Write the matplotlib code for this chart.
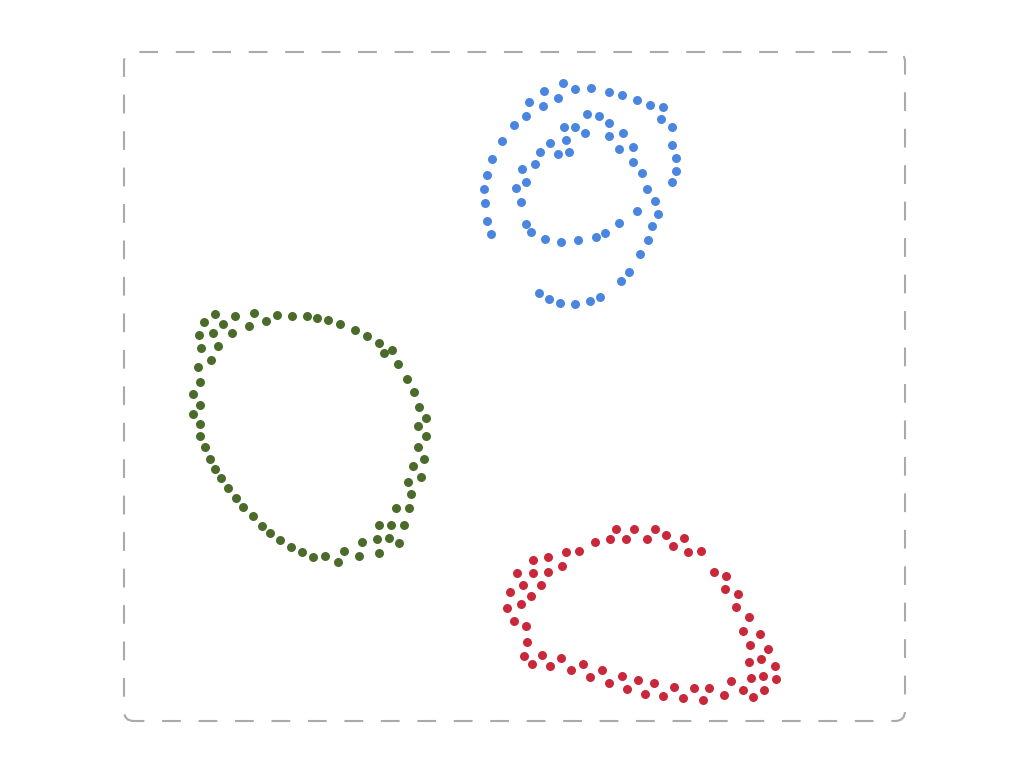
import matplotlib
matplotlib.use("Agg")
import matplotlib.pyplot as plt
from matplotlib.patches import FancyBboxPatch

# Data values (x to the right, y upward; chart area spans x 124..905, y 47..716)
blue_x = [491.3, 487.3, 485, 484.3, 487.3, 492, 502.3, 513.7, 526.3, 529, 544, 542.7, 558, 563,
          575.3, 591.3, 609.3, 622, 636.7, 649.7, 663, 661, 672, 672.3, 676.3, 676.3, 672.3, 655,
          658, 652.3, 647.7, 639.7, 629.3, 620.7, 600.3, 590, 575, 560.3, 549, 539.3,
          647, 642, 633.3, 633.3, 623, 619, 608.7, 608.7, 599, 587, 585.3, 575.3, 563.7, 566,
          569.3, 557.7, 549.7, 540, 534.7, 522.3, 526, 516.3, 521.3, 526, 531.3, 545.3, 560.7,
          577.7, 595.7, 605.3, 619.3, 637]
blue_y_px = [233.7, 220.7, 203, 189.3, 175.3, 159, 140.7, 125, 116.3, 102.3, 90.7, 105.7, 98, 83.3,
             88.7, 87.7, 91.7, 95, 99.7, 105, 107, 119.3, 127, 145, 158, 170.7, 182.3, 201,
             214.3, 226.3, 240, 254, 271.7, 281, 296.7, 301.3, 303.7, 303, 299, 293,
             188.7, 172.7, 162.3, 147.3, 133.3, 148.7, 136, 123.3, 116.3, 113.7, 133, 126.7, 127.3, 140,
             152.3, 154.3, 143.3, 151.7, 164.3, 169.3, 181.7, 187.7, 202.3, 223.7, 232.3, 239.3, 242.3,
             240.3, 237.3, 233.3, 223.3, 210.7]

green_x = [214.7, 235.3, 254, 266.3, 277, 291.7, 307, 317.3, 328.3, 340.3, 354.7, 366.7, 378.7, 384,
           392.3, 397.7, 407.3, 413.7, 418.7, 426, 417.7, 426, 418.3, 423.7, 413, 420.7, 407.7, 410.7,
           409, 395.7, 404.3, 391, 378.7, 377, 389.3, 399.3, 378.7, 362.3, 359, 344, 338, 325.3,
           313.3, 302.3, 291, 280, 270.3, 261.7, 252.7, 243.3, 235.7, 228, 221, 214.7, 209.7, 205,
           200.3, 200.3, 192.7, 199.7, 192.7, 200, 197.7, 210.7, 217.7, 201, 199.3, 212.7, 204, 223,
           232, 249]
green_y_px = [314, 315.7, 313.3, 320.7, 314.7, 315.7, 315.7, 317.7, 320, 324, 330, 336, 343, 353.3,
              350.3, 364, 379, 391.7, 407, 418.3, 426, 435.7, 446.7, 459, 466, 477, 482, 493.7,
              507.7, 508.3, 525, 525, 525, 538.7, 537.7, 542.7, 552.7, 542.3, 556, 551.3, 562, 555.7,
              557, 552, 547, 540.3, 533.3, 526, 516.3, 506.7, 498, 488, 478.3, 469, 458.7, 447.3,
              435.7, 424, 414.3, 404.7, 393.7, 382.3, 366.7, 359.7, 346.3, 348, 335, 333.3, 321.7, 324,
              333, 326.3]

red_x = [616.3, 634.3, 655, 665.7, 683.7, 672.7, 687.7, 701, 647, 625.7, 610.3, 595.3, 579.3, 565.7,
         561.7, 547.7, 533, 547.7, 532.7, 516.7, 523.3, 540.7, 510.3, 531.3, 521, 507.3, 514.3, 526,
         527, 523.7, 532, 542, 550, 561.3, 571.3, 583.3, 589.7, 601.7, 609, 621.7, 627, 638,
         645.3, 654.3, 662.7, 673.7, 683, 693.7, 702.7, 709, 724, 730.7, 742.7, 753.3, 764.3, 751.3,
         763.3, 776.3, 761.3, 775, 749, 768.3, 750, 759.7, 743, 748.7, 736, 737.7, 724.7, 726, 713.7]
red_y_px = [529.3, 529.3, 528.7, 534.7, 538, 545.7, 551.7, 550.7, 538.7, 539, 539.3, 542, 550.7, 552.3,
            565.7, 557.3, 560.3, 572, 573, 573, 584.7, 584.7, 592.3, 595.7, 604.3, 608, 620.7, 626,
            642, 656, 663.7, 654.7, 666, 658.3, 670, 664.3, 677, 670.3, 683, 676, 688.7, 680.3,
            693.7, 683.3, 696.3, 686.7, 697.7, 688, 700.3, 688.3, 695.3, 681, 689.7, 697.3, 690, 677.7,
            675.7, 679.3, 659.3, 665.7, 661.7, 648.7, 645.3, 634, 630.7, 617.3, 606.7, 593.7, 588.7, 576, 572.3]

H = 768
blue_y = [H - v for v in blue_y_px]
green_y = [H - v for v in green_y_px]
red_y = [H - v for v in red_y_px]

fig = plt.figure(figsize=(10.24, 7.68), dpi=100)
left, right, top, bottom = 124, 905, 52, 721
ax = fig.add_axes([left / 1024, (H - bottom) / H, (right - left) / 1024, (bottom - top) / H])
ax.set_xlim(left, right)
ax.set_ylim(H - bottom, H - top)
ax.axis("off")

ms = 42
ax.scatter(blue_x, blue_y, s=ms, color="#4a86e0", linewidths=0, zorder=3)
ax.scatter(green_x, green_y, s=ms, color="#4a6b2a", linewidths=0, zorder=3)
ax.scatter(red_x, red_y, s=ms, color="#c8283a", linewidths=0, zorder=3)

box = FancyBboxPatch((left / 100, (H - bottom) / 100), (right - left) / 100, (bottom - top) / 100,
                     boxstyle="round,pad=0,rounding_size=0.1",
                     transform=fig.dpi_scale_trans, fill=False,
                     edgecolor="#aaaaaa", linewidth=1.5,
                     linestyle=(4, (9, 8.5)))
fig.patches.append(box)

fig.savefig("out.png", dpi=100)
